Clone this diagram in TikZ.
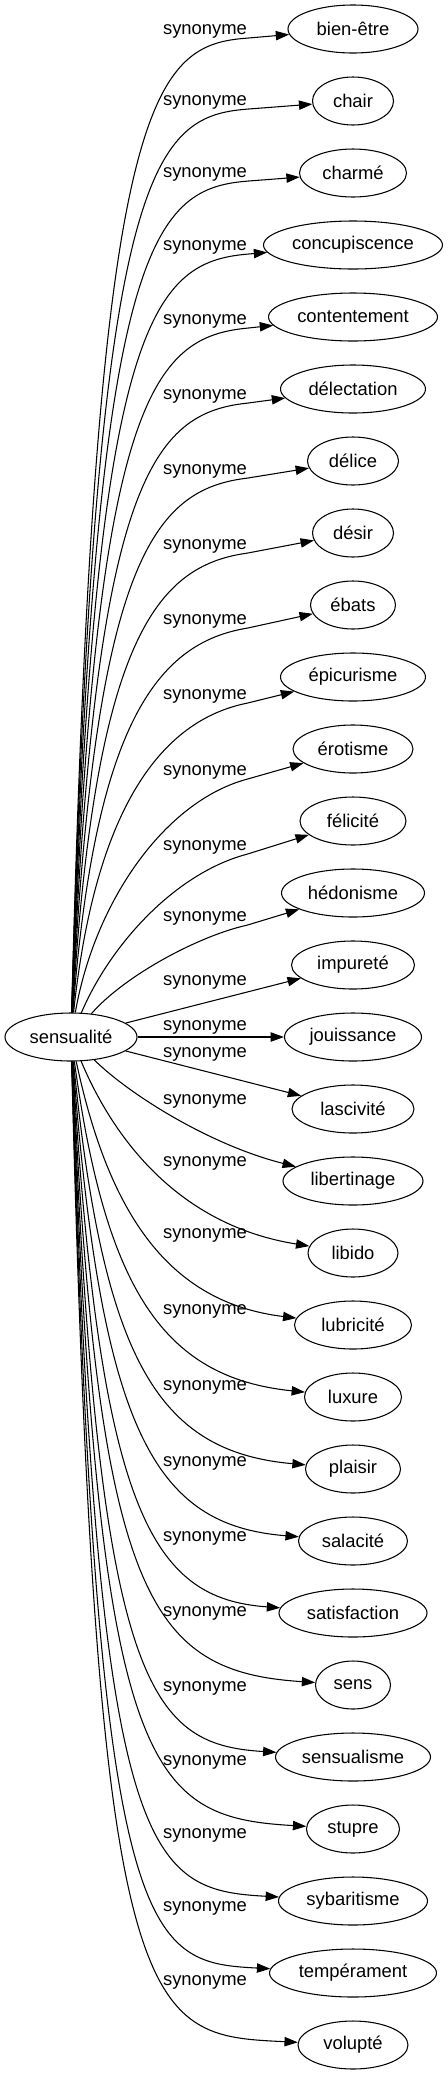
\documentclass[tikz,border=0pt]{standalone}
\usepackage{fontspec}
\setmainfont{Liberation Sans}
\usetikzlibrary{shapes.geometric,arrows.meta}

\tikzset{
  word/.style={ellipse, draw, line width=0.8pt, inner sep=0pt, minimum height=36pt},
  rel/.style={inner sep=0pt},
  link/.style={line width=0.8pt, -{Triangle[length=10pt,width=7pt]}}
}

\begin{document}
\begin{tikzpicture}[x=0.75pt, y=-0.75pt, font=\fontsize{13.8}{16}\selectfont]
  \useasboundingbox (0,0) rectangle (448,2075);
  \node[word, minimum width=99pt] (root) at (71,1037) {sensualité};
  % index / ellipse width / label height / word
  \foreach \i/\w/\ly/\txt in {
      0/130/31/bien-être, 1/81/102/chair, 2/107/174/charmé,
      3/179/247/concupiscence, 4/169/321/contentement, 5/145/396/délectation,
      6/91/471/délice, 7/81/546/désir, 8/85/621/ébats,
      9/145/696/épicurisme, 10/120/772/érotisme, 11/106/847/félicité,
      12/143/918/hédonisme, 13/123/982/impureté, 14/137/1027/jouissance,
      15/122/1054/lascivité, 16/140/1101/libertinage, 17/90/1163/libido,
      18/117/1235/lubricité, 19/97/1311/luxure, 20/95/1387/plaisir,
      21/109/1463/salacité, 22/148/1538/satisfaction, 23/75/1613/sens,
      24/155/1688/sensualisme, 25/93/1762/stupre, 26/149/1835/sybaritisme,
      27/167/1908/tempérament, 28/110/1982/volupté} {
    \node[word, minimum width=\w*0.75pt] (syn\i) at (353,{29+72*\i}) {\txt};
    \node[rel] (lab\i) at (205,\ly) {synonyme};
    \ifnum\i<13
      % rising edges pass under the right end of their label
      \pgfmathsetmacro\rise{1006-\ly}
      \pgfmathsetmacro\pax{95+max(0,0.2055*(234-\rise))}
      \pgfmathsetmacro\pay{\ly+7+min(62*pow(975/\rise,0.47),0.57*\rise)}
      \pgfmathsetmacro\qax{145+4800/\rise}
      \pgfmathsetmacro\qay{\ly+7+min(7*pow(975/\rise,0.8),0.12*\rise)}
      \draw[link] (root) .. controls (\pax,\pay) and (\qax,\qay) .. (lab\i.south east) -- (syn\i);
    \else\ifnum\i>15
      % falling edges bend just left of their label
      \pgfmathsetmacro\yt{29+72*\i}
      \pgfmathsetmacro\rise{\yt-1061}
      \pgfmathsetmacro\pax{92+4500/\rise}
      \pgfmathsetmacro\pay{\yt-min(110,0.72*\rise,0.21*(1030-\rise))}
      \pgfmathsetmacro\qax{135+9000/\rise}
      \pgfmathsetmacro\qay{\yt-36*pow(120/\rise,0.6)}
      \draw[link] (root) .. controls (\pax,\pay) and (\qax,\qay) .. (syn\i);
    \else
      \draw[link] (root) -- (syn\i);
    \fi\fi
  }
\end{tikzpicture}
\end{document}
